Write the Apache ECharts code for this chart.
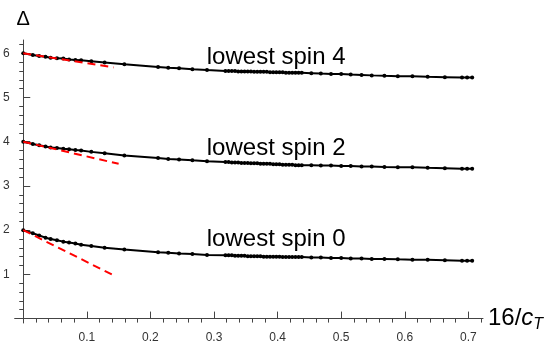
<!DOCTYPE html>
<html>
<head>
<meta charset="utf-8">
<script src="https://cdn.jsdelivr.net/npm/echarts@6/dist/echarts.min.js"></script>
<style>
  html, body { margin: 0; padding: 0; background: #fff; }
  #chart { width: 554px; height: 344px; }
</style>
</head>
<body>
<div id="chart"></div>
<script>
// 16/c_T values, shared by the three curves
const xs = [
  0, 0.015, 0.025, 0.035, 0.043, 0.053, 0.063, 0.072, 0.082, 0.091,
  0.107, 0.128, 0.159, 0.212, 0.228, 0.245, 0.266, 0.289, 0.318,
  0.323, 0.328, 0.333, 0.338, 0.343, 0.348, 0.353, 0.358, 0.363, 0.368,
  0.373, 0.378, 0.383, 0.388, 0.393, 0.398, 0.403, 0.408, 0.413, 0.418,
  0.423, 0.428, 0.433, 0.438,
  0.453, 0.468, 0.484, 0.500, 0.515, 0.532, 0.548, 0.568, 0.589, 0.612,
  0.636, 0.663, 0.690, 0.698, 0.706
];

const spin4 = [
  6.00, 5.96, 5.94, 5.92, 5.90, 5.89, 5.88, 5.86, 5.85, 5.84,
  5.82, 5.79, 5.75, 5.69, 5.67, 5.66, 5.64, 5.62, 5.60,
  5.60, 5.60, 5.60, 5.59, 5.59, 5.59, 5.59, 5.59, 5.58, 5.58,
  5.58, 5.58, 5.58, 5.57, 5.57, 5.57, 5.57, 5.57, 5.56, 5.56,
  5.56, 5.56, 5.56, 5.56,
  5.55, 5.54, 5.53, 5.53, 5.52, 5.51, 5.50, 5.49, 5.48, 5.48,
  5.47, 5.46, 5.45, 5.45, 5.45
];

const spin2 = [
  4.00, 3.95, 3.92, 3.89, 3.87, 3.86, 3.84, 3.83, 3.81, 3.80,
  3.77, 3.74, 3.69, 3.63, 3.61, 3.60, 3.58, 3.56, 3.54,
  3.54, 3.53, 3.53, 3.53, 3.52, 3.52, 3.52, 3.51, 3.51, 3.51,
  3.50, 3.50, 3.50, 3.50, 3.49, 3.49, 3.49, 3.48, 3.48, 3.48,
  3.48, 3.47, 3.47, 3.47,
  3.47, 3.46, 3.46, 3.45, 3.45, 3.44, 3.44, 3.43, 3.42, 3.42,
  3.41, 3.40, 3.39, 3.39, 3.39
];

const spin0 = [
  2.00, 1.93, 1.88, 1.83, 1.80, 1.77, 1.74, 1.72, 1.70, 1.67,
  1.64, 1.60, 1.56, 1.50, 1.49, 1.47, 1.46, 1.44, 1.43,
  1.43, 1.43, 1.42, 1.42, 1.42, 1.42, 1.41, 1.41, 1.41, 1.41,
  1.41, 1.40, 1.40, 1.40, 1.40, 1.40, 1.40, 1.39, 1.39, 1.39,
  1.39, 1.39, 1.39, 1.39,
  1.38, 1.38, 1.37, 1.37, 1.36, 1.36, 1.35, 1.35, 1.34, 1.33,
  1.33, 1.32, 1.31, 1.31, 1.31
];

// red dashed small-x slopes: [start, end]
const tangent4X = [0, 0.142];
const tangent4 = [6.0, 5.68];
const tangent2X = [0, 0.150];
const tangent2 = [4.0, 3.50];
const tangent0X = [0, 0.146];
const tangent0 = [2.0, 0.95];

const curveLabels = ["lowest spin 4", "lowest spin 2", "lowest spin 0"];
const labelX = [0.2886, 0.2886, 0.2886];
const labelY = [5.91, 3.86, 1.80];

const xMajor = [0.1, 0.2, 0.3, 0.4, 0.5, 0.6, 0.7];
const xMinor = [0.02, 0.04, 0.06, 0.08, 0.12, 0.14, 0.16, 0.18, 0.22, 0.24, 0.26, 0.28,
  0.32, 0.34, 0.36, 0.38, 0.42, 0.44, 0.46, 0.48, 0.52, 0.54, 0.56, 0.58,
  0.62, 0.64, 0.66, 0.68, 0.72];
const yMajor = [1, 2, 3, 4, 5, 6];
const yMinor = [0.2, 0.4, 0.6, 0.8, 1.2, 1.4, 1.6, 1.8, 2.2, 2.4, 2.6, 2.8,
  3.2, 3.4, 3.6, 3.8, 4.2, 4.4, 4.6, 4.8, 5.2, 5.4, 5.6, 5.8, 6.2];

const FONT = "'Liberation Sans', Arial, sans-serif";
const AXIS_COLOR = "#444";

const zip = (a, b) => a.map((v, i) => [v, b[i]]);

const chart = echarts.init(document.getElementById("chart"), null, { renderer: "canvas" });

function curve(values, idx) {
  return {
    type: "line",
    data: zip(xs, values),
    symbol: "circle",
    symbolSize: 4,
    showAllSymbol: true,
    itemStyle: { color: "#000" },
    lineStyle: { color: "#000", width: 2 },
    silent: true,
    z: 3,
    markPoint: {
      symbol: "circle",
      symbolSize: 0,
      silent: true,
      label: {
        show: true,
        position: "right",
        distance: 0,
        formatter: "{b}",
        fontFamily: FONT,
        fontSize: 24,
        color: "#000"
      },
      data: [{ name: curveLabels[idx], coord: [labelX[idx], labelY[idx]] }]
    }
  };
}

function tangent(tx, ty) {
  return {
    type: "line",
    data: zip(tx, ty),
    symbol: "none",
    lineStyle: { color: "#ff0000", width: 2, type: [8, 5] },
    silent: true,
    z: 4
  };
}

const baseX = {
  type: "value",
  min: -0.0135,
  max: 0.723,
  splitLine: { show: false }
};
const baseY = {
  type: "value",
  min: -0.1,
  max: 6.3,
  splitLine: { show: false }
};

const option = {
  animation: false,
  backgroundColor: "#fff",
  grid: { left: 10, top: 40, width: 473, height: 290 },
  xAxis: [
    Object.assign({}, baseX, {
      name: "{a|16/}{c|c}{t|T}",
      nameLocation: "end",
      nameGap: 5,
      nameTextStyle: {
        rich: {
          a: { fontFamily: FONT, fontSize: 24, color: "#000" },
          c: { fontFamily: FONT, fontSize: 24, fontStyle: "italic", color: "#000" },
          t: { fontFamily: FONT, fontSize: 16, fontStyle: "italic", color: "#000", padding: [12, 0, 0, 0] }
        }
      },
      axisLine: { onZero: true, onZeroAxisIndex: 0, lineStyle: { color: AXIS_COLOR, width: 1 } },
      axisTick: { inside: true, length: 7, customValues: xMajor, lineStyle: { color: AXIS_COLOR } },
      axisLabel: {
        customValues: xMajor,
        formatter: v => v.toFixed(1),
        fontFamily: FONT, fontSize: 12, color: "#333", margin: 9
      }
    }),
    Object.assign({}, baseX, {
      axisLine: { show: false, onZero: true, onZeroAxisIndex: 0 },
      axisTick: { inside: true, length: 4, customValues: xMinor, lineStyle: { color: AXIS_COLOR } },
      axisLabel: { show: false }
    })
  ],
  yAxis: [
    Object.assign({}, baseY, {
      name: "Δ",
      nameLocation: "end",
      nameGap: 11,
      nameTextStyle: { fontFamily: FONT, fontSize: 20, color: "#000" },
      axisLine: { onZero: true, onZeroAxisIndex: 0, lineStyle: { color: AXIS_COLOR, width: 1 } },
      axisTick: { inside: true, length: 7, customValues: yMajor, lineStyle: { color: AXIS_COLOR } },
      axisLabel: {
        customValues: yMajor,
        fontFamily: FONT, fontSize: 12, color: "#333", margin: 5
      }
    }),
    Object.assign({}, baseY, {
      axisLine: { show: false, onZero: true, onZeroAxisIndex: 0 },
      axisTick: { inside: true, length: 4, customValues: yMinor, lineStyle: { color: AXIS_COLOR } },
      axisLabel: { show: false }
    })
  ],
  series: [
    curve(spin4, 0),
    curve(spin2, 1),
    curve(spin0, 2),
    tangent(tangent4X, tangent4),
    tangent(tangent2X, tangent2),
    tangent(tangent0X, tangent0)
  ]
};

chart.setOption(option);
</script>
</body>
</html>
